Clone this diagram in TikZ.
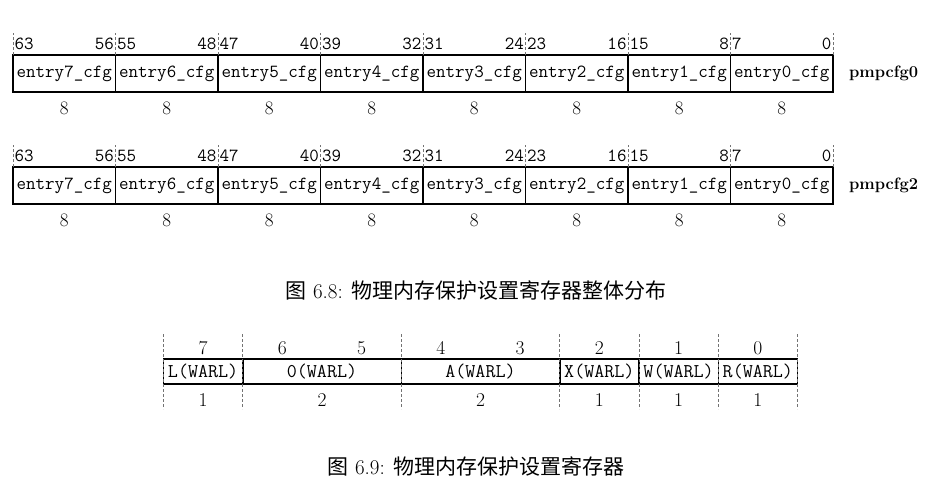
\documentclass[tikz,border=0pt]{standalone}
\usepackage{fontspec}
\newfontfamily\cjk{Noto Sans CJK SC}
\usetikzlibrary{positioning, calc}
\newcommand{\bitline}[3]
{
	\draw[tick] ($ (#1) + (0,#2) $) -- ($ (#1) + (0,#3) $)
}

\begin{document}
\begin{tikzpicture}[x=1pt, y=1pt,
	every node/.append style={inner sep=0pt, outer sep=0pt},
	cell/.style={draw=black, line width=1.5pt, font=\fontsize{18.5}{20}\ttfamily},
	bitnum/.style={font=\fontsize{18.5}{20}\ttfamily},
	tick/.style={draw=black!55, densely dashed, line width=0.7pt},
	regname/.style={font=\fontsize{16.5}{18}\selectfont\bfseries},
	figcap/.style={font=\fontsize{21}{24}\selectfont}]

	\useasboundingbox (0,0) rectangle (941,483);

	% pmpcfg0 and pmpcfg2
	\foreach \r/\y in {0/409.5, 2/297.5} {
		\foreach \i in {0,...,7} {
			\pgfmathtruncatemacro{\e}{7-\i}
			\pgfmathtruncatemacro{\hi}{63-8*\i}
			\pgfmathtruncatemacro{\lo}{56-8*\i}
			\node[cell, minimum width=102.5pt, minimum height=37pt] at (64.25+102.5*\i, \y) (r\r e\e){entry\e\_cfg};
			\node[bitnum, anchor=west] at ($ (r\r e\e.north west) + (1.5,11) $) (r\r h\e){\hi};
			\node[bitnum, anchor=east] at ($ (r\r e\e.north east) + (-1.5,11) $) (r\r l\e){\lo};
			\node[bitnum, font=\fontsize{19}{21}\rmfamily] at ($ (r\r e\e.south) + (0,-16) $) (r\r w\e){8};
			\bitline{r\r e\e.north west}{0}{22};
		}
		\bitline{r\r e0.north east}{0}{22};
		\node[regname, anchor=west] at ($ (r\r e0.east) + (16,0) $) (reg\r){pmpcfg\r};
	}
	\node[figcap] at (476, 193) (cap1){{\cjk 图} 6.8: {\cjk 物理内存保护设置寄存器整体分布}};

	% pmpcfg entry
	\foreach \f/\w/\c/\t in {fL/1/203.125/L, fO/2/322/0, fA/2/480.5/A, fX/1/599.375/X, fW/1/678.625/W, fR/1/757.875/R} {
		\node[cell, font=\fontsize{19.5}{21}\ttfamily, minimum width=79.25pt*\w, minimum height=25pt] at (\c, 111.5) (\f){\t(WARL)};
		\node[bitnum, font=\fontsize{19.5}{21}\rmfamily] at ($ (\f.south) + (0,-16) $) (\f w){\w};
		\bitline{\f.north west}{25}{-50};
	}
	\bitline{fR.north east}{25}{-50};
	\foreach \b in {0,...,7} {
		\node[bitnum, font=\fontsize{19.5}{21}\rmfamily] at (163.5+79.25*7.5-79.25*\b, 135) (bit\b){\b};
	}
	\node[figcap] at (476, 17) (cap2){{\cjk 图} 6.9: {\cjk 物理内存保护设置寄存器}};
\end{tikzpicture}
\end{document}
